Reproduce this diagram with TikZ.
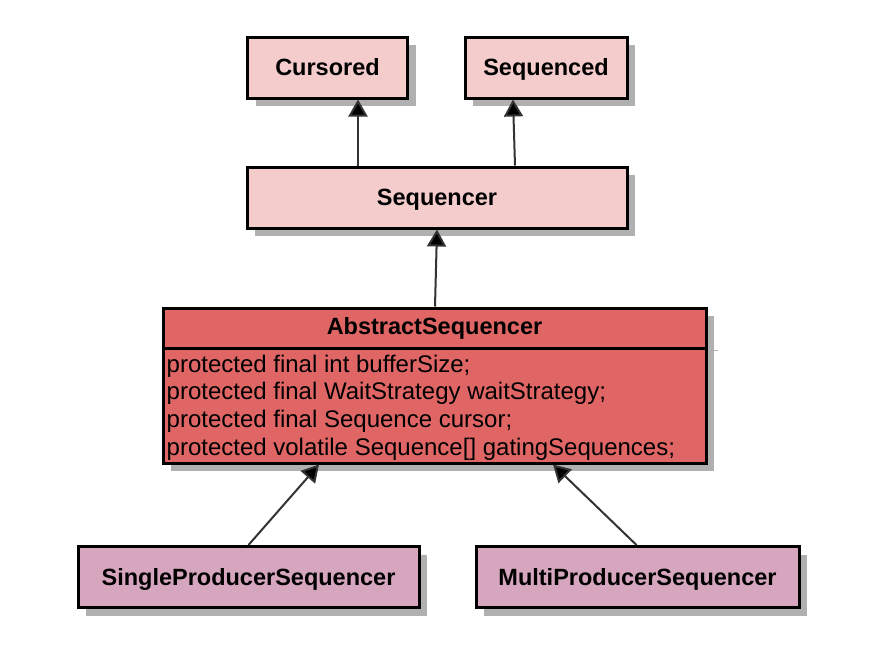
\documentclass[tikz,border=0pt]{standalone}
\usepackage{fontspec}
\setmainfont{Liberation Sans}
\usetikzlibrary{shadows,arrows.meta}
\definecolor{lightpink}{HTML}{F4CCCC}
\definecolor{absred}{HTML}{E06666}
\definecolor{prodpink}{HTML}{D5A6BD}
\definecolor{shadowgray}{HTML}{B0B0B0}
\definecolor{arrowgray}{HTML}{333333}
\tikzset{
  classbox/.style={draw=black, line width=3pt, rectangle, inner sep=0pt,
    minimum height=61pt, font=\fontsize{23.5}{28}\selectfont\bfseries,
    text height=16.8pt, text depth=0pt,
    drop shadow={shadow xshift=8pt, shadow yshift=-8pt, opacity=1, fill=shadowgray}},
  inherit/.style={draw=arrowgray, line width=2pt,
    -{Triangle[width=19pt,length=17pt,fill=black]}},
  attrtext/.style={font=\fontsize{24}{27.7}\selectfont, align=left, inner sep=0pt, anchor=north west},
}
\begin{document}
\begin{tikzpicture}[x=1pt,y=-1pt]
\useasboundingbox[fill=white] (0,0) rectangle (884,646);
% top
\node[classbox, fill=lightpink, minimum width=160pt] (cur) at (327.5,67.5) {Cursored};
\node[classbox, fill=lightpink, minimum width=162pt] (sqd) at (546,67.5) {Sequenced};
\node[classbox, fill=lightpink, minimum width=380pt] (seqr) at (437,197.5) {Sequencer};
% abstract
\node[classbox, fill=absred, minimum width=543pt, minimum height=155pt] (abs) at (434.5,385.5) {};
\draw[shadowgray, line width=1pt] ([xshift=2pt,yshift=-44pt]abs.north east) -- ([xshift=10pt,yshift=-44pt]abs.north east);
\draw[black, line width=3pt] ([yshift=-42pt]abs.north west) coordinate (hl) -- ([yshift=-42pt]abs.north east) coordinate (hr);
\node[font=\fontsize{23.5}{28}\selectfont\bfseries, inner sep=0pt, text height=16.8pt, text depth=0pt] (abshead) at ([yshift=-20pt]abs.north) {AbstractSequencer};
\node[attrtext] (absattr) at ([xshift=5pt,yshift=-6pt]hl) {protected final int bufferSize;\\protected final WaitStrategy waitStrategy;\\protected final Sequence cursor;\\protected volatile Sequence[] gatingSequences;};
% bottom
\node[classbox, fill=prodpink, minimum width=341pt] (single) at (248.5,577) {SingleProducerSequencer};
\node[classbox, fill=prodpink, minimum width=323pt] (multi) at (637.5,577) {MultiProducerSequencer};
% arrows
\draw[inherit] ([xshift=-79pt]seqr.north) -- ([xshift=30.5pt]cur.south);
\draw[inherit] ([xshift=78pt]seqr.north) -- ([xshift=-33pt]sqd.south);
\draw[inherit] ([xshift=0.5pt]abs.north) -- (seqr.south);
\draw[inherit] (single.north) -- ([xshift=-115.5pt]abs.south);
\draw[inherit] ([xshift=-1pt]multi.north) -- ([xshift=118.5pt]abs.south);
\end{tikzpicture}
\end{document}
